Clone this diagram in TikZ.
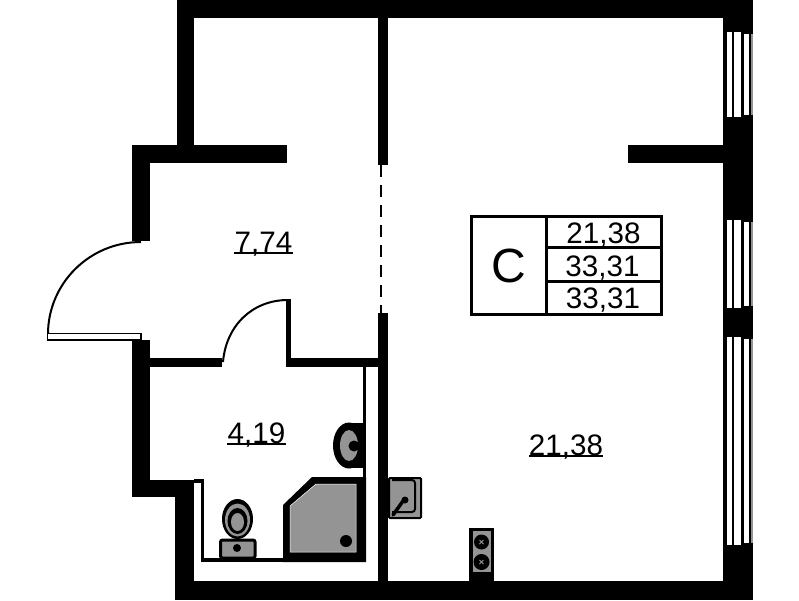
\documentclass[tikz,border=0pt]{standalone}
\usepackage{fontspec}
\setmainfont{Liberation Sans}
\usepackage{xcolor}
\usetikzlibrary{positioning}
\pgfdeclarelayer{wall_layer}
\pgfdeclarelayer{fixture_layer}
\pgfdeclarelayer{text_layer}
\pgfsetlayers{main,wall_layer,fixture_layer,text_layer}
\definecolor{fixture_gray}{gray}{0.58}
\tikzstyle{wall}=[fill=black, draw=none]
\tikzstyle{glass}=[fill=white, draw=none]
\tikzstyle{thin_wall}=[draw=black, line width=3.5pt, line cap=butt]
\tikzstyle{door_line}=[draw=black, line width=2pt]
\tikzstyle{fixture}=[fill=fixture_gray, draw=black, line width=3pt]
\tikzstyle{area_text}=[inner sep=0pt, anchor=base, font=\fontsize{29.6}{30}\selectfont]
\tikzstyle{area_rule}=[draw=black, line width=1.4pt]
\tikzstyle{table_line}=[draw=black, line width=3pt]
\begin{document}
\begin{tikzpicture}[x=1pt, y=-1pt]
    \useasboundingbox (0,0) rectangle (799,600);
    \begin{pgfonlayer}{wall_layer}
        % outer walls
        \fill[style=wall] (177,0) rectangle (753,18);
        \fill[style=wall] (177,0) rectangle (194,163);
        \fill[style=wall] (132,145) rectangle (287,163);
        \fill[style=wall] (132,145) rectangle (150,241);
        \fill[style=wall] (132,340) rectangle (150,497);
        \fill[style=wall] (132,480) rectangle (194,497);
        \fill[style=wall] (175,480) rectangle (194,600);
        \fill[style=wall] (175,581) rectangle (753,600);
        \fill[style=wall] (723,0) rectangle (753,600);
        \fill[style=wall] (628,145) rectangle (723,163);
        % inner walls
        \fill[style=wall] (377.5,0) rectangle (388,165);
        \fill[style=wall] (377.5,313) rectangle (388,600);
        \fill[style=wall] (150,358) rectangle (222,367);
        \fill[style=wall] (287,358) rectangle (378,367);
        \fill[style=wall] (286,299) rectangle (291,367);
        \draw[style=thin_wall, line width=2pt, dash pattern=on 12pt off 8pt] (381,165) -- (381,313);
        \fill[style=wall] (194,479) rectangle (204,483);
        \fill[style=wall] (201,479) rectangle (204,562);
        \fill[style=wall] (201,558) rectangle (366,562);
        \fill[style=wall] (363,362) rectangle (366,562);
        % windows
        \foreach \top/\bottom in {32/117, 220/308, 337/545} {
            \fill[style=glass] (726.5,\top) rectangle (731.5,\bottom);
            \fill[style=glass] (733.5,\top) rectangle (741,\bottom);
            \fill[style=glass] (744,\top+2) rectangle (749,\bottom-2);
            \fill[fixture_gray] (751,\top+2) rectangle (753,\bottom-2);
        }
    \end{pgfonlayer}
    \begin{pgfonlayer}{fixture_layer}
        % entrance door
        \draw[style=door_line] (141,242) .. controls (89,242) and (48,284) .. (48,334);
        \draw[draw=black, fill=white, line width=1.6pt] (47.5,333.5) rectangle (141,340);
        % bathroom door
        \draw[style=door_line] (288,300) .. controls (252,300) and (226,326) .. (223,362);
        % shower
        \fill[black] (283,505) -- (312,477) -- (366,477) -- (366,562) -- (283,562) -- cycle;
        \fill[fixture_gray, draw=white, line width=0.5pt] (290,506) -- (316,484) -- (356,484) -- (356,552) -- (290,552) -- cycle;
        \fill[black] (346,541) circle[radius=6pt];
        % washbasin
        \begin{scope}
            \clip (325,420) rectangle (363,470);
            \fill[black] (349,445.5) ellipse[x radius=16pt, y radius=23pt];
            \fill[black] (349,423) rectangle (363,468);
            \fill[fixture_gray] (349,445.5) ellipse[x radius=9pt, y radius=15.5pt];
            \fill[black] (354,446) circle[radius=5.5pt];
        \end{scope}
        % toilet
        \fill[black] (237.5,519) ellipse[x radius=15.5pt, y radius=20pt];
        \fill[fixture_gray] (237.5,520) ellipse[x radius=12.5pt, y radius=16.5pt];
        \fill[black] (237.5,521) ellipse[x radius=10pt, y radius=13pt];
        \fill[fixture_gray] (237.5,522) ellipse[x radius=6.5pt, y radius=9pt];
        \draw[style=fixture, rounded corners=2pt] (220.5,540) rectangle (255,558);
        \fill[black] (237,548) circle[radius=4pt];
        % kitchen sink
        \draw[style=fixture, line width=2pt, rounded corners=1pt] (389,478) rectangle (421,518);
        \draw[draw=black, line width=2pt, rounded corners=3pt] (392,480) -- (415,480) -- (415,512) -- (392,512);
        \draw[draw=black, line width=3.5pt, line cap=round] (393,515) -- (403,501);
        \fill[black] (405,500) circle[radius=3.5pt];
        % stove
        \fill[black] (469,528) rectangle (494,581);
        \fill[fixture_gray] (473,531) rectangle (491,572);
        \foreach \cy/\cr in {542/7.5, 562/8} {
            \fill[black] (481.5,\cy) circle[radius=\cr pt];
            \draw[draw=fixture_gray, line width=0.8pt] (479.5,\cy-2) -- (483.5,\cy+2) (483.5,\cy-2) -- (479.5,\cy+2);
        }
    \end{pgfonlayer}
    \begin{pgfonlayer}{text_layer}
        \node[style=area_text] (hall) at (263.5,252) {7,74};
        \node[style=area_text] (bath) at (256.5,443) {4,19};
        \node[style=area_text] (room) at (566,455) {21,38};
        \draw[style=area_rule] ([yshift=-1pt]hall.base west) -- ([yshift=-1pt]hall.base east);
        \draw[style=area_rule] ([yshift=-1pt]bath.base west) -- ([yshift=-1pt]bath.base east);
        \draw[style=area_rule] ([yshift=-1pt]room.base west) -- ([yshift=-1pt]room.base east);
        % apartment table
        \draw[style=table_line] (471,216) rectangle (661.5,314);
        \draw[style=table_line] (546,216) -- (546,314);
        \draw[style=table_line] (546,247.5) -- (661.5,247.5);
        \draw[style=table_line] (546,281) -- (661.5,281);
        \node[inner sep=0pt, anchor=base, font=\fontsize{48}{48}\selectfont] (flat_type) at (509,282) {C};
        \node[style=area_text] (area_living) at (603.5,243) {21,38};
        \node[style=area_text] (area_total) at (602.5,276) {33,31};
        \node[style=area_text] (area_full) at (603,308.5) {33,31};
    \end{pgfonlayer}
\end{tikzpicture}
\end{document}
